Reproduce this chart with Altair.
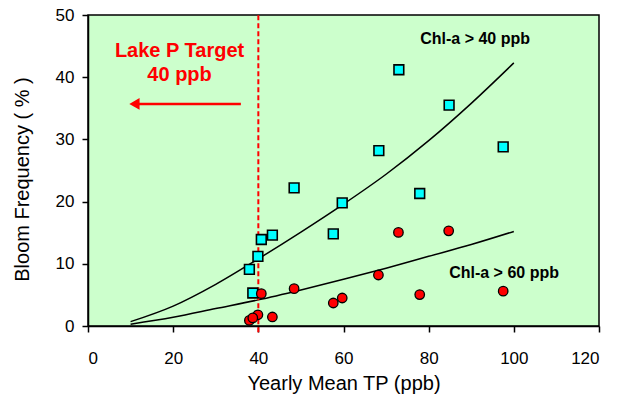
import altair as alt
import pandas as pd

# Lake observations: yearly mean TP (ppb) and bloom frequency (%)
tp_40 = [73.0, 84.8, 97.5, 68.3, 48.4, 77.9, 59.7, 57.6, 43.3, 40.7, 39.9, 37.9, 38.7]
freq_40 = [41.2, 35.5, 28.8, 28.2, 22.2, 21.3, 19.8, 14.8, 14.6, 13.9, 11.2, 9.1, 5.3]

tp_60 = [72.9, 84.7, 68.2, 48.4, 40.7, 97.5, 77.9, 59.7, 57.6, 39.9, 43.3, 37.9, 38.7]
freq_60 = [15.05, 15.3, 8.2, 6.0, 5.2, 5.6, 5.05, 4.5, 3.7, 1.8, 1.45, 0.9, 1.3]

# Fitted response curves
curve_tp = [10, 20, 30, 40, 50, 60, 70, 80, 90, 100]
fit_40 = [0.7, 3.2, 6.7, 10.8, 15.1, 19.6, 24.4, 29.8, 35.8, 42.3]
fit_60 = [0.3, 1.4, 2.8, 4.2, 5.8, 7.5, 9.3, 11.2, 13.1, 15.2]

target_tp = 40
x_ticks = [0, 20, 40, 60, 80, 100, 120]
y_ticks = [0, 10, 20, 30, 40, 50]

FONT = "Liberation Sans"

x_scale = alt.Scale(domain=[0, 120], nice=False, zero=False)
y_scale = alt.Scale(domain=[0, 50], nice=False, zero=False)

x_axis = alt.Axis(values=x_ticks, title="Yearly Mean TP (ppb)", grid=False,
                  labelFontSize=17, titleFontSize=20, titleFontWeight="normal",
                  tickSize=6, labelPadding=26, labelBaseline="middle",
                  titleY=57, titleBaseline="middle")
y_axis = alt.Axis(values=y_ticks, title="Bloom Frequency ( % )", grid=False,
                  labelFontSize=17, titleFontSize=20, titleFontWeight="normal",
                  tickSize=6, labelPadding=8, titleX=-66, titleY=164,
                  titleBaseline="middle")

sq_df = pd.DataFrame({"tp": tp_40, "freq": freq_40})
ci_df = pd.DataFrame({"tp": tp_60, "freq": freq_60})
fit_df = pd.DataFrame({
    "tp": curve_tp * 2,
    "freq": fit_40 + fit_60,
    "series": ["Chl-a > 40 ppb"] * len(curve_tp) + ["Chl-a > 60 ppb"] * len(curve_tp),
})

curves = alt.Chart(fit_df).mark_line(color="black", strokeWidth=1.5,
                                     interpolate="monotone").encode(
    x=alt.X("tp:Q", scale=x_scale, axis=x_axis),
    y=alt.Y("freq:Q", scale=y_scale, axis=y_axis),
    detail="series:N",
)

target_line = alt.Chart(pd.DataFrame({"tp": [target_tp], "lo": [-1], "hi": [50]})).mark_rule(
    color="#FF0000", strokeWidth=2, strokeDash=[5, 3], clip=False
).encode(x="tp:Q", y="lo:Q", y2="hi:Q")

squares = alt.Chart(sq_df).mark_point(
    shape="square", filled=True, fill="#00FFFF", stroke="black",
    strokeWidth=1.6, size=95, opacity=1
).encode(x="tp:Q", y="freq:Q")

circles = alt.Chart(ci_df).mark_point(
    shape="circle", filled=True, fill="#FF0000", stroke="black",
    strokeWidth=1.3, size=90, opacity=1
).encode(x="tp:Q", y="freq:Q")

# Arrow pointing toward lower TP from the target line
arrow_df = pd.DataFrame({"x0": [35.9], "x1": [11.5], "y": [35.7]})
arrow_shaft = alt.Chart(arrow_df).mark_rule(color="#FF0000", strokeWidth=2.4).encode(
    x="x0:Q", x2="x1:Q", y="y:Q"
)
arrow_head = alt.Chart(pd.DataFrame({"x": [10.9], "y": [35.7]})).mark_point(
    shape="triangle-left", filled=True, color="#FF0000", size=140, opacity=1
).encode(x="x:Q", y="y:Q")

target_text = alt.Chart(pd.DataFrame({
    "x": [21.5, 21.5], "y": [43.3, 39.4], "label": ["Lake P Target", "40 ppb"]
})).mark_text(color="#FF0000", font=FONT, fontSize=20, fontWeight="bold",
              align="center", baseline="alphabetic").encode(
    x="x:Q", y="y:Q", text="label:N"
)

series_text = alt.Chart(pd.DataFrame({
    "x": [90.9, 97.7], "y": [45.4, 7.7], "label": ["Chl-a > 40 ppb", "Chl-a > 60 ppb"]
})).mark_text(color="black", font=FONT, fontSize=16, fontWeight="bold",
              align="center", baseline="alphabetic").encode(
    x="x:Q", y="y:Q", text="label:N"
)

chart = alt.layer(
    curves, target_line, arrow_shaft, arrow_head, squares, circles,
    target_text, series_text
).properties(
    width=511, height=311,
    padding={"left": 88, "top": 15, "right": 19, "bottom": 78},
    autosize=alt.AutoSizeParams(type="none"),
    background="white",
).configure_view(
    fill="#CCFFCC", stroke="black", strokeWidth=1.5
).configure_axis(
    labelFont=FONT, titleFont=FONT, labelColor="black", titleColor="black",
    domainColor="black", domainWidth=1.5, tickColor="black", tickWidth=1.5
)

chart.save("out.html", embed_options={"renderer": "svg", "actions": False})
